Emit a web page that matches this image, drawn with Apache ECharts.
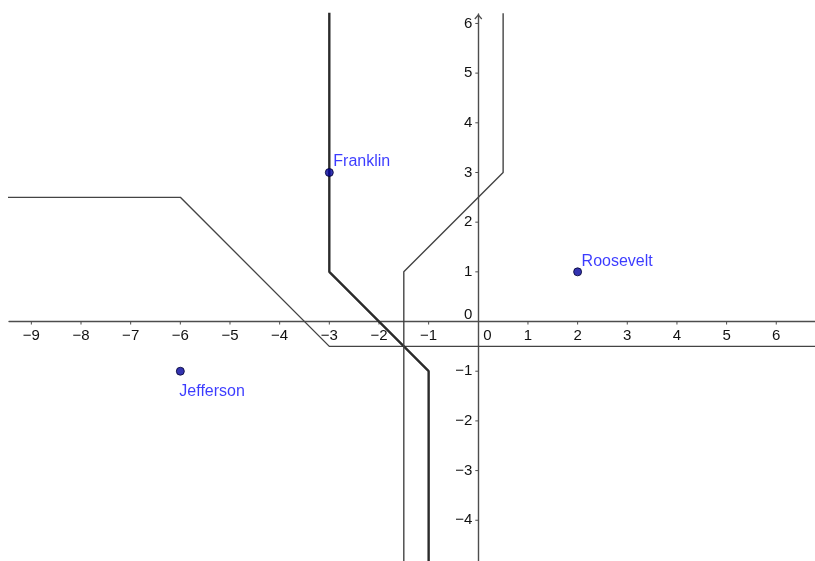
<!DOCTYPE html>
<html>
<head>
<meta charset="utf-8">
<script src="https://cdn.jsdelivr.net/npm/echarts@6/dist/echarts.min.js"></script>
<style>
  html, body { margin: 0; padding: 0; background: #fff; }
  #chart { width: 815px; height: 561px; }
</style>
</head>
<body>
<div id="chart"></div>
<script>
// tick labels on both axes
const xTicks = [-9, -8, -7, -6, -5, -4, -3, -2, -1, 0, 1, 2, 3, 4, 5, 6]
const yTicks = [-4, -3, -2, -1, 0, 1, 2, 3, 4, 5, 6]

// the three named points
const pointNames = ['Franklin', 'Roosevelt', 'Jefferson']
const pointX = [-3, 2, -6]
const pointY = [3, 1, -1]

// broken lines (bisectors), each as [x, y] vertices
const lineJefferson = [[-10, 2.5], [-6, 2.5], [-3, -0.5], [7, -0.5]]
const lineFranklin = [[-3, 7], [-3, 1], [-1, -1], [-1, -5]]
const lineRoosevelt = [[-1.5, -5], [-1.5, 1], [0.5, 3], [0.5, 7]]

// visible window
const xMin = -9.45
const xMax = 6.78
const yMin = -4.82
const yMax = 6.19

const chart = echarts.init(document.getElementById('chart'))

const tickFont = '15px "Liberation Sans", Arial, sans-serif'
const axisColor = '#4d4d4d'

function fmt(v) {
  return v < 0 ? '\u2212' + Math.abs(v) : String(v)
}

// label offsets for the points (px)
const labelOffset = {
  Franklin: [4, -11],
  Roosevelt: [4, -10],
  Jefferson: [-1, 20]
}

function polyline(data, color, width) {
  return {
    type: 'line',
    data: data,
    showSymbol: false,
    symbol: 'none',
    silent: true,
    lineStyle: { color: color, width: width },
    z: 3
  }
}

const option = {
  animation: false,
  grid: { left: 9, right: 0, top: 14, bottom: 0 },
  xAxis: {
    type: 'value',
    min: xMin,
    max: xMax,
    axisLine: { onZero: true, lineStyle: { color: axisColor, width: 1.4 } },
    axisTick: { show: false },
    axisLabel: { show: false },
    splitLine: { show: false }
  },
  yAxis: {
    type: 'value',
    min: yMin,
    max: yMax,
    axisLine: { onZero: true, lineStyle: { color: axisColor, width: 1.4 } },
    axisTick: { show: false },
    axisLabel: { show: false },
    splitLine: { show: false }
  },
  series: [
    polyline(lineJefferson, '#444', 1.4),
    polyline(lineFranklin, '#2b2b2b', 2.4),
    polyline(lineRoosevelt, '#444', 1.4),
    // x-axis ticks + labels
    {
      type: 'custom',
      silent: true,
      clip: false,
      z: 2,
      data: xTicks.map((v) => [v, 0]),
      renderItem: (params, api) => {
        const v = api.value(0)
        const p = api.coord([v, 0])
        const children = []
        if (v !== 0) {
          children.push({
            type: 'line',
            shape: { x1: p[0], y1: p[1], x2: p[0], y2: p[1] + 3 },
            style: { stroke: axisColor, lineWidth: 1 }
          })
        }
        const tx = v === 0 ? p[0] + 9 : p[0]
        children.push({
          type: 'text',
          style: {
            text: fmt(v), x: tx, y: p[1] + 14, font: tickFont, fill: '#111',
            align: 'center', verticalAlign: 'middle',
            textAlign: 'center', textVerticalAlign: 'middle'
          }
        })
        return { type: 'group', children: children }
      }
    },
    // y-axis ticks + labels
    {
      type: 'custom',
      silent: true,
      clip: false,
      z: 2,
      data: yTicks.map((v) => [0, v]),
      renderItem: (params, api) => {
        const v = api.value(1)
        const p = api.coord([0, v])
        const children = []
        if (v !== 0) {
          children.push({
            type: 'line',
            shape: { x1: p[0] - 3, y1: p[1], x2: p[0], y2: p[1] },
            style: { stroke: axisColor, lineWidth: 1 }
          })
        }
        const ty = v === 0 ? p[1] - 7 : p[1]
        children.push({
          type: 'text',
          style: {
            text: fmt(v), x: p[0] - 6, y: ty, font: tickFont, fill: '#111',
            align: 'right', verticalAlign: 'middle',
            textAlign: 'right', textVerticalAlign: 'middle'
          }
        })
        return { type: 'group', children: children }
      }
    },
    // arrow head on top of y-axis
    {
      type: 'custom',
      silent: true,
      clip: false,
      z: 2,
      data: [[0, yMax]],
      renderItem: (params, api) => {
        const p = api.coord([api.value(0), api.value(1)])
        return {
          type: 'polyline',
          shape: { points: [[p[0] - 3.5, p[1] + 5], [p[0], p[1] + 1], [p[0] + 3.5, p[1] + 5]] },
          style: { stroke: axisColor, lineWidth: 1.2, fill: null }
        }
      }
    },
    // points
    {
      type: 'scatter',
      z: 5,
      symbolSize: 8,
      itemStyle: { color: '#00009c', borderColor: '#000030', borderWidth: 1 },
      label: {
        show: true,
        formatter: '{b}',
        position: 'inside',
        align: 'left',
        verticalAlign: 'middle',
        color: '#0a0aff',
        fontSize: 16,
        fontFamily: '"Liberation Sans", Arial, sans-serif'
      },
      data: pointNames.map((n, i) => ({
        name: n,
        value: [pointX[i], pointY[i]],
        label: { offset: labelOffset[n] }
      }))
    }
  ]
}

chart.setOption(option)
</script>
</body>
</html>
